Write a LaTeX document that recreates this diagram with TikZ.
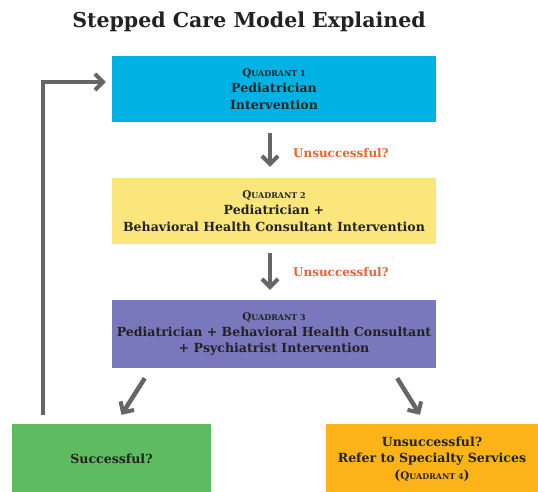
\documentclass[tikz,border=0pt]{standalone}
\usepackage{fontspec}
\setmainfont{DejaVu Serif}
\usetikzlibrary{arrows.meta,calc}
\definecolor{qone}{HTML}{00B2E3}
\definecolor{qtwo}{HTML}{FBE67C}
\definecolor{qthree}{HTML}{7A78BD}
\definecolor{qgreen}{HTML}{5EBB5F}
\definecolor{qorange}{HTML}{FBB317}
\definecolor{arrgray}{HTML}{666666}
\definecolor{lblred}{HTML}{EC6235}
\definecolor{txt}{HTML}{222222}
\newcommand{\quadlbl}[1]{{\fontsize{10.5}{12}\selectfont Q}{\fontsize{8}{12}\selectfont UADRANT #1}}
\tikzset{
  box/.style={draw=none, minimum width=324bp, minimum height=66bp, align=center,
    text=txt, font=\bfseries\fontsize{12.6}{16.5}\selectfont, inner sep=0pt},
  flow/.style={draw=arrgray, line width=4.5bp, -{Straight Barb[length=8bp,width=16bp,line width=4bp]}},
  lbl/.style={text=lblred, font=\bfseries\fontsize{12}{14}\selectfont, anchor=west, inner sep=0pt}
}
\begin{document}
\begin{tikzpicture}[x=1bp,y=-1bp]
\useasboundingbox (0,0) rectangle (538,492);
\fill[white] (0,0) rectangle (538,492);
\node[text=txt, font=\bfseries\fontsize{20.6}{24}\selectfont] (title) at (249,22) {Stepped Care Model Explained};
\node[box, fill=qone] (q1) at (274,89) {\quadlbl{1}\\Pediatrician\\Intervention};
\node[box, fill=qtwo] (q2) at (274,211) {\quadlbl{2}\\Pediatrician +\\Behavioral Health Consultant Intervention};
\node[box, fill=qthree, minimum height=68bp] (q3) at (274,334) {\quadlbl{3}\\Pediatrician + Behavioral Health Consultant\\+ Psychiatrist Intervention};
\node[box, fill=qgreen, minimum width=199bp, minimum height=70bp] (succ) at (111.5,459) {Successful?};
\node[box, fill=qorange, minimum width=212bp, minimum height=70bp] (spec) at (432,459) {Unsuccessful?\\Refer to Specialty Services\\(\quadlbl{4})};
\draw[flow] ($(q1.south)+(-4,11)$) -- ($(q2.north)+(-4,-11)$);
\draw[flow] ($(q2.south)+(-4,9)$) -- ($(q3.north)+(-4,-10)$);
\node[lbl] (u1) at (293,153) {Unsuccessful?};
\node[lbl] (u2) at (293,272) {Unsuccessful?};
\draw[flow] ($(q3.south west)+(33,10)$) -- ($(succ.north)+(10,-9)$);
\draw[flow] ($(q3.south east)+(-39,10)$) -- ($(spec.north)+(-12,-9)$);
\coordinate (fb) at ($(succ.north west)+(31,-9)$);
\draw[flow] (fb) |- ($(q1.west)+(-6,-7)$);
\end{tikzpicture}
\end{document}
